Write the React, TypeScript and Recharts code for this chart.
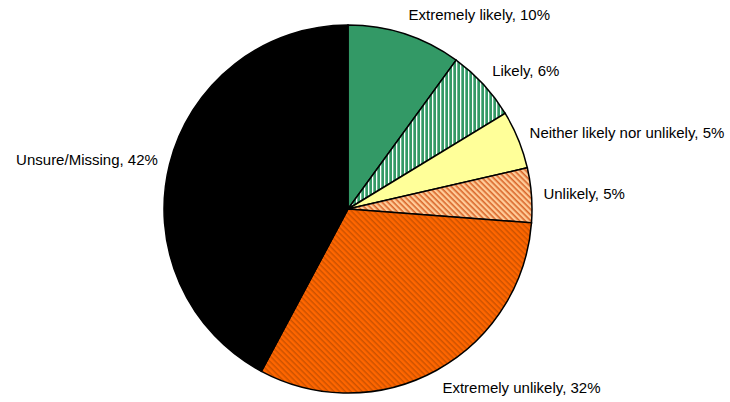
import { PieChart, Pie, Cell } from "recharts";

const categories = [
  "Extremely likely",
  "Likely",
  "Neither likely nor unlikely",
  "Unlikely",
  "Extremely unlikely",
  "Unsure/Missing",
];
const shares = [10, 6.3, 5.1, 4.8, 31.6, 42.2];
const fills = [
  "#339966",
  "url(#likelyStripes)",
  "#FFFF99",
  "url(#unlikelyStripes)",
  "url(#extUnlikelyStripes)",
  "#000000",
];

const data = categories.map((name, i) => ({ name, value: shares[i] }));

const RADIAN = Math.PI / 180;

// label box sits just outside the rim, pushed away by half its height
const renderLabel = (props: any) => {
  const { cx, cy, midAngle, outerRadius, name, value } = props;
  const r = outerRadius + 12;
  const cos = Math.cos(-midAngle * RADIAN);
  const sin = Math.sin(-midAngle * RADIAN);
  const x = cx + r * cos;
  const y = cy + r * sin + 8 * sin;
  return (
    <text
      x={x}
      y={y}
      fill="#000"
      fontSize={15}
      fontFamily="'Liberation Sans', Arial, sans-serif"
      textAnchor={x > cx ? "start" : "end"}
      dominantBaseline="central"
    >
      {`${name}, ${Math.round(value)}%`}
    </text>
  );
};

export default function App() {
  return (
    <div style={{ position: "absolute", left: 0, top: 0, background: "#fff" }}>
      <PieChart width={730} height={402} margin={{ top: 0, right: 0, bottom: 0, left: 0 }}>
        <defs>
          <pattern id="likelyStripes" patternUnits="userSpaceOnUse" width={4} height={4}>
            <rect width={4} height={4} fill="#339966" />
            <rect x={0} width={1.3} height={4} fill="#ffffff" />
          </pattern>
          <pattern
            id="unlikelyStripes"
            patternUnits="userSpaceOnUse"
            width={4}
            height={4}
            patternTransform="rotate(45)"
          >
            <rect width={4} height={4} fill="#FFCC99" />
            <rect y={0} width={4} height={1.6} fill="#D9662A" />
          </pattern>
          <pattern
            id="extUnlikelyStripes"
            patternUnits="userSpaceOnUse"
            width={4}
            height={4}
            patternTransform="rotate(45)"
          >
            <rect width={4} height={4} fill="#FF6600" />
            <rect y={0} width={4} height={1.5} fill="#CC5200" />
          </pattern>
        </defs>
        <Pie
          data={data}
          dataKey="value"
          nameKey="name"
          cx={348}
          cy={209}
          outerRadius={184}
          startAngle={90}
          endAngle={-270}
          stroke="#000"
          strokeWidth={1.5}
          label={renderLabel}
          labelLine={false}
          isAnimationActive={false}
        >
          {data.map((d, i) => (
            <Cell key={d.name} fill={fills[i]} />
          ))}
        </Pie>
      </PieChart>
    </div>
  );
}
